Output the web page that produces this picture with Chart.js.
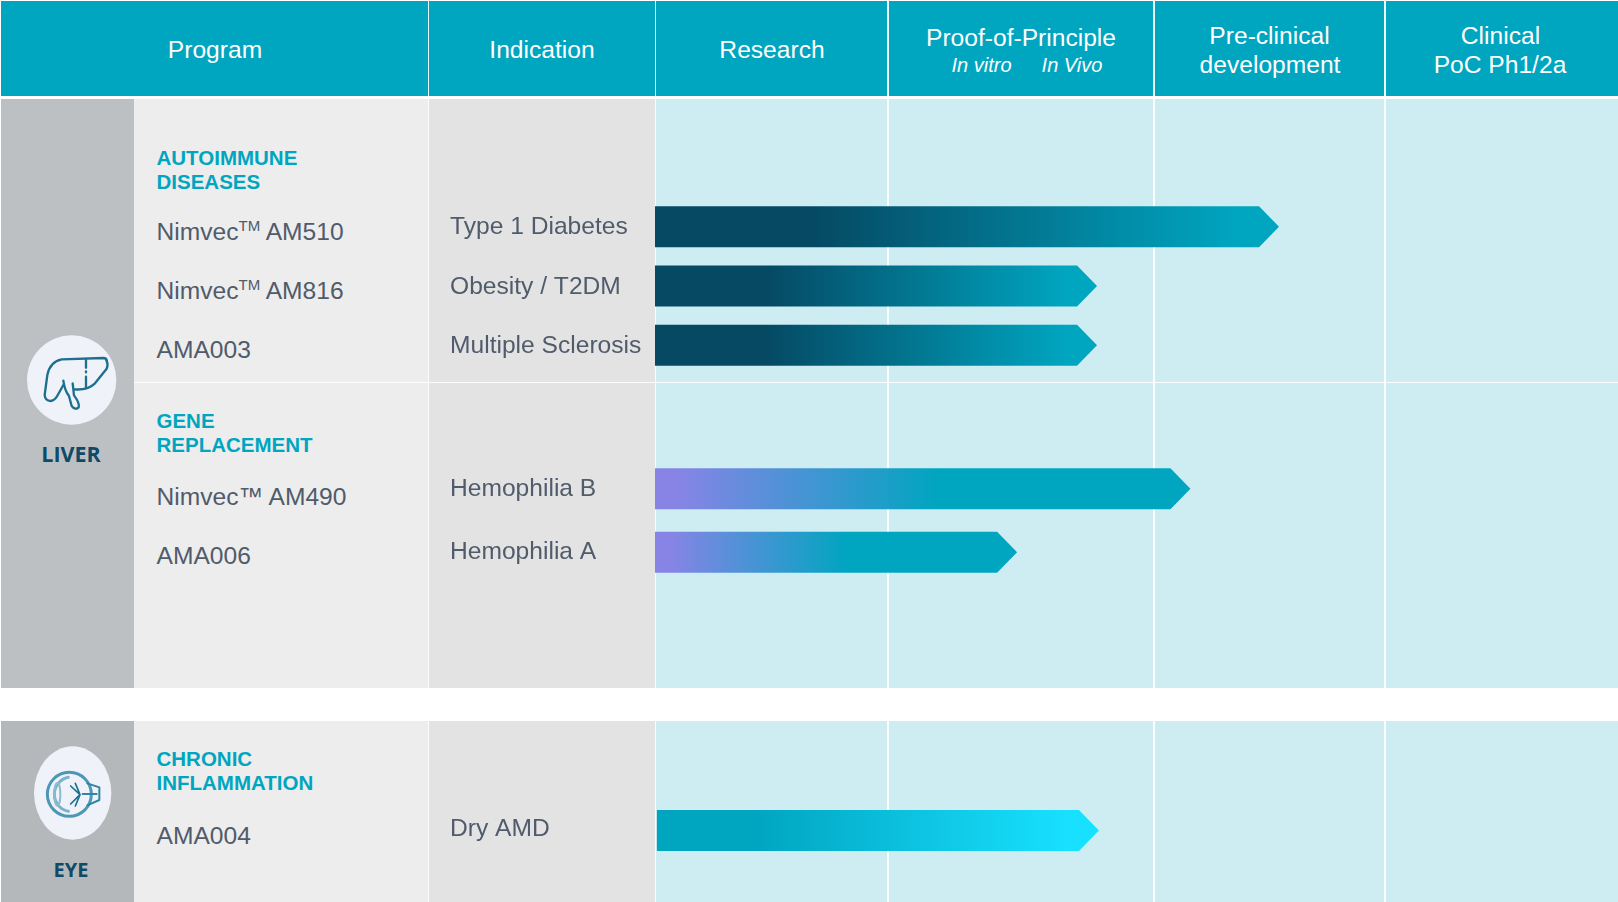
<!DOCTYPE html>
<html>
<head>
<title>Pipeline</title>
<script src="https://cdn.jsdelivr.net/npm/chart.js"></script>
<style>
body { margin: 0; background: #fff; overflow: hidden; }
#page { position: relative; width: 1618px; height: 902px; font-family: "Liberation Sans", Arial, sans-serif; overflow: hidden; }
#page div.box { position: absolute; }
#page div.txt { position: absolute; white-space: nowrap; line-height: 1; transform: translateY(-50%); }
#page div.mid { transform: translate(-50%, -50%); }
sup { font-size: 15px; line-height: 0; vertical-align: baseline; position: relative; top: -9px; }
canvas { position: absolute; }
svg { position: absolute; filter: blur(0.4px); }
</style>
</head>
<body>
<div id="page"></div>

<script>
// chart values (x = % of the way through the four stage columns)
const autoimmuneIndications = ['Type 1 Diabetes', 'Obesity / T2DM', 'Multiple Sclerosis'];
const autoimmuneStart = [0, 0, 0];
const autoimmuneEnd = [64.8, 45.9, 45.9];

const geneIndications = ['Hemophilia B', 'Hemophilia A'];
const geneStart = [0, 0];
const geneEnd = [55.6, 37.6];

const eyeIndications = ['Dry AMD'];
const eyeStart = [0.2];
const eyeEnd = [46.1];

const autoimmunePrograms = ['Nimvec<sup>TM</sup> AM510', 'Nimvec<sup>TM</sup> AM816', 'AMA003'];
const genePrograms = ['Nimvec™ AM490', 'AMA006'];
const eyePrograms = ['AMA004'];

const autoimmuneTitle = ['AUTOIMMUNE', 'DISEASES'];
const geneTitle = ['GENE', 'REPLACEMENT'];
const eyeTitle = ['CHRONIC', 'INFLAMMATION'];

const page = document.getElementById('page');
const teal = '#00a5c0', slate = '#505b6b', navy = '#0f4a66';
const bodySize = 24.6;

function box(x, y, w, h, color) {
    const d = document.createElement('div');
    d.className = 'box';
    d.style.cssText = `left:${x}px;top:${y}px;width:${w}px;height:${h}px;background:${color}`;
    page.appendChild(d);
}

function text(html, x, y, size, color, extra, centered) {
    const d = document.createElement('div');
    d.className = centered ? 'txt mid' : 'txt';
    d.style.cssText = `left:${x}px;top:${y}px;font-size:${size}px;color:${color};${extra || ''}`;
    d.innerHTML = html;
    page.appendChild(d);
}

// table background
box(1, 1, 1617, 95, teal);
function panel(top, h, side) {
    box(1, top, 133, h, side);
    box(134, top, 295, h, '#ededed');
    box(429, top, 226, h, '#e3e3e3');
    box(655, top, 963, h, '#cdedf2');
}
panel(99, 589, '#bdc0c3');
panel(721, 181, '#b5b8bb');
box(134, 382, 1484, 1, '#fbfdfd');
// column separators
[428, 655].forEach(function (x) {
    box(x, 1, 1, 95, '#e6f6f9');
    box(x, 99, 1, 589, '#f8fcfc');
    box(x, 721, 1, 181, '#f8fcfc');
});
[887, 1153, 1384].forEach(function (x) {
    box(x, 1, 1.5, 95, '#eef9fb');
    box(x, 99, 1.5, 589, '#fbfeff');
    box(x, 721, 1.5, 181, '#fbfeff');
});

// header
text('Program', 215, 50, bodySize, '#fff', '', true);
text('Indication', 542, 50, bodySize, '#fff', '', true);
text('Research', 772, 50, bodySize, '#fff', '', true);
text('Proof-of-Principle', 1021, 37.5, bodySize, '#fff', '', true);
text('In vitro', 981.5, 65, 20, '#fff', 'font-style:italic', true);
text('In Vivo', 1072, 65, 20, '#fff', 'font-style:italic', true);
text('Pre-clinical', 1269.5, 36, bodySize, '#fff', '', true);
text('development', 1270, 65, bodySize, '#fff', '', true);
text('Clinical', 1500.5, 36, bodySize, '#fff', '', true);
text('PoC Ph1/2a', 1500, 65, bodySize, '#fff', '', true);

// program column
function programBlock(title, titleY, programs, firstY, step) {
    title.forEach(function (t, i) {
        text(t, 156.5, titleY + i * 24, 20.5, teal, 'font-weight:bold');
    });
    programs.forEach(function (p, i) {
        text(p, 156.5, firstY + i * step, bodySize, slate);
    });
}
programBlock(autoimmuneTitle, 158, autoimmunePrograms, 231.5, 59);
programBlock(geneTitle, 421, genePrograms, 497, 59);
programBlock(eyeTitle, 759, eyePrograms, 835.5, 59);

// organ badges
text('LIVER', 71, 454, 21.5, navy, 'font-weight:700;font-family:\'Open Sans\'', true);
text('EYE', 71, 870, 20, navy, 'font-weight:700;font-family:\'Open Sans\'', true);

page.insertAdjacentHTML('beforeend', `
<svg style="left:0;top:320px" width="200" height="160" viewBox="0 0 600 480" fill="none" stroke="#1d6f8f" stroke-width="7" stroke-linecap="round" stroke-linejoin="round">
  <circle cx="215" cy="180" r="134" fill="#f0f2f9" stroke="none"/>
  <path d="M320 122 Q320 114 310 114 L185 118 Q150 125 142 165 L134 225 Q135 242 152 243 Q165 242 175 222 L190 195"/>
  <path d="M190 182 Q194 212 207 228 L215 258 Q226 272 236 262 Q240 250 222 226 L218 190"/>
  <path d="M222 208 Q262 212 285 190 L320 146 Q325 135 320 122"/>
  <path d="M258 118 V143 M258 154 V157 M258 170 V205"/>
</svg>
<svg style="left:0;top:700px" width="200" height="202" viewBox="0 0 600 606" fill="none" stroke="#2f84a6" stroke-width="6" stroke-linecap="round" stroke-linejoin="round">
  <ellipse cx="218" cy="279" rx="116" ry="140" fill="#f0f2f9" stroke="none"/>
  <circle cx="208" cy="283" r="66" stroke-width="9" stroke="#4d97b5"/>
  <path d="M205 232 A52 52 0 0 0 205 334" stroke-width="9" stroke="#7ab3c9"/>
  <ellipse cx="172" cy="283" rx="9" ry="34" stroke="#8bbdd0"/>
  <path d="M262 250 L298 262 V300 L262 316 M248 282 H290" stroke="#2f84a6"/>
  <path d="M240 284 L212 258 M240 284 L226 250 M240 284 L212 312 M240 284 L226 318" stroke="#1d6f8f" stroke-width="5"/>
</svg>`);

// draws every bar as an arrow, from the rectangle the bar scale worked out
const arrowBars = {
    id: 'arrowBars',
    beforeDatasetDraw(chart, args, opts) {
        const ctx = chart.ctx;
        args.meta.data.forEach(function (bar) {
            const p = bar.getProps(['x', 'y', 'base', 'height'], true);
            const top = p.y - p.height / 2, bottom = p.y + p.height / 2;
            const grad = ctx.createLinearGradient(p.base, 0, p.x, 0);
            opts.stops.forEach(function (s) { grad.addColorStop(s[0], s[1]); });
            ctx.fillStyle = grad;
            ctx.beginPath();
            ctx.moveTo(p.base, top);
            ctx.lineTo(p.x - opts.head, top);
            ctx.lineTo(p.x, p.y);
            ctx.lineTo(p.x - opts.head, bottom);
            ctx.lineTo(p.base, bottom);
            ctx.closePath();
            ctx.fill();
        });
        return false;
    }
};

function pipelineChart(top, height, labels, starts, ends, stops, labelOffset) {
    const c = document.createElement('canvas');
    c.width = 1189;
    c.height = height;
    c.style.left = '429px';
    c.style.top = top + 'px';
    page.appendChild(c);
    return new Chart(c.getContext('2d'), {
        type: 'bar',
        plugins: [arrowBars],
        data: {
            labels: labels,
            datasets: [{ data: starts.map(function (s, i) { return [s, ends[i]]; }), barThickness: 41 }]
        },
        options: {
            indexAxis: 'y',
            responsive: false,
            animation: false,
            layout: { padding: { left: 21, right: 0, top: 0, bottom: 0 } },
            plugins: {
                legend: { display: false },
                tooltip: { enabled: false },
                arrowBars: { stops: stops, head: 20 }
            },
            scales: {
                x: { display: false, min: 0, max: 100 },
                y: {
                    border: { display: false },
                    grid: { display: false, drawTicks: false },
                    // keep the plot flush with the stage columns and the full canvas height
                    afterFit: function (scale) {
                        scale.width = 205;
                        scale.paddingTop = 0;
                        scale.paddingBottom = 0;
                    },
                    ticks: {
                        crossAlign: 'far',
                        autoSkip: false,
                        labelOffset: labelOffset,
                        color: slate,
                        font: { family: '"Liberation Sans"', size: bodySize }
                    }
                }
            }
        }
    });
}

pipelineChart(197, 178, autoimmuneIndications, autoimmuneStart, autoimmuneEnd,
    [[0, '#054963'], [0.25, '#054963'], [0.93, teal], [1, teal]], 1);
pipelineChart(457, 127, geneIndications, geneStart, geneEnd,
    [[0, '#8784e6'], [0.04, '#8784e6'], [0.53, teal], [1, teal]], 0);
pipelineChart(799, 63, eyeIndications, eyeStart, eyeEnd,
    [[0, teal], [0.22, teal], [0.93, '#18e0ff'], [1, '#18e0ff']], -1);
</script>
</body>
</html>
